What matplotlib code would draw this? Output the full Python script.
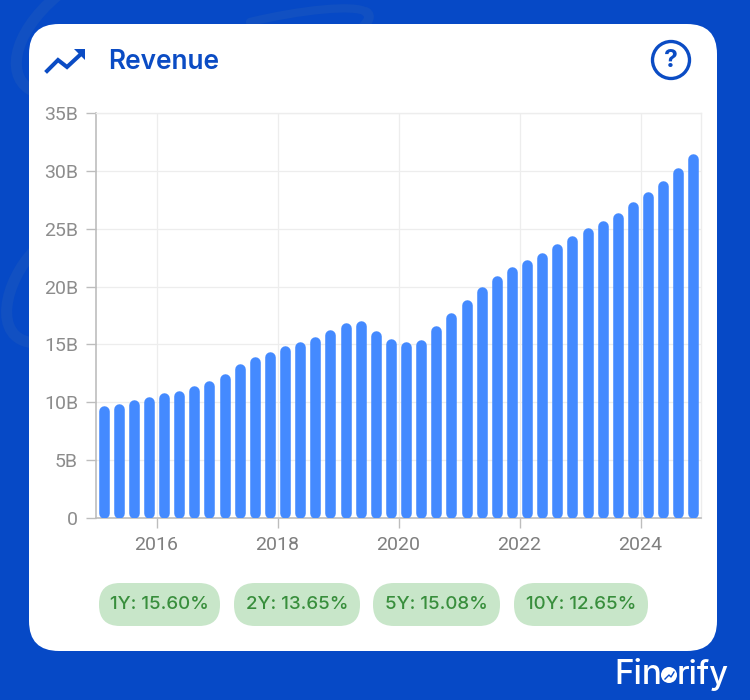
import matplotlib
matplotlib.use('Agg')
import matplotlib.pyplot as plt
import matplotlib.patches as mpatches
import matplotlib.path as mpath
import numpy as np

# quarterly revenue, billions
revenue = [9.7, 9.9, 10.2, 10.5, 10.8, 11.0, 11.4, 11.9, 12.5, 13.3,
           13.9, 14.4, 14.9, 15.2, 15.7, 16.3, 16.9, 17.0, 16.2, 15.5,
           15.2, 15.4, 16.6, 17.7, 18.9, 20.0, 20.9, 21.7, 22.3, 22.9,
           23.7, 24.4, 25.1, 25.7, 26.4, 27.3, 28.2, 29.1, 30.3, 31.5]
years = [2016, 2018, 2020, 2022, 2024]
y_ticks = [0, 5, 10, 15, 20, 25, 30, 35]
y_labels = ['0', '5B', '10B', '15B', '20B', '25B', '30B', '35B']
growth = ['1Y: 15.60%', '2Y: 13.65%', '5Y: 15.08%', '10Y: 12.65%']
pill_left = [99, 234, 373, 514]
pill_right = [220, 360, 500, 648]

BLUE = '#0649C6'
TITLE = '#0B4CC4'
W, H = 750, 700

fig = plt.figure(figsize=(W / 100, H / 100), dpi=100, facecolor=BLUE)

# full size layer in pixel coordinates for the card and the decorations
bg = fig.add_axes([0, 0, 1, 1])
bg.set_xlim(0, W)
bg.set_ylim(H, 0)
bg.axis('off')

P = mpath.Path
swooshes = [
    ([(58, -5), (10, 35), (5, 80), (35, 92)], 8),
    ([(250, 22), (300, 10), (355, 4), (366, 12)], 6),
    ([(366, 12), (372, 16), (368, 22), (362, 28)], 7),
    ([(35, 250), (5, 280), (-10, 340), (35, 343)], 8),
]
for pts, lw in swooshes:
    bg.add_patch(mpatches.PathPatch(P(pts, [P.MOVETO, P.CURVE4, P.CURVE4, P.CURVE4]),
                                    fc='none', ec='#1150C2', lw=lw, capstyle='round'))

bg.add_patch(mpatches.FancyBboxPatch((29 + 30, 24 + 30), 688 - 60, 627 - 60,
                                     boxstyle='round,pad=30,rounding_size=30',
                                     fc='white', ec='none'))

# trend icon
bg.plot([47, 58, 67, 81], [71, 60, 67, 54], color=TITLE, lw=2.9, solid_joinstyle='miter')
bg.add_patch(mpatches.Polygon([(74, 49), (85, 49), (85, 60)], fc=TITLE, ec='none'))
bg.text(108, 62, 'Revenue', color=TITLE, fontsize=18.9, fontweight='semibold',
        family='Inter', ha='left', va='center')

# help icon
bg.add_patch(mpatches.Circle((671, 60), 18.5, fc='none', ec=TITLE, lw=2.4))
bg.text(671, 60.5, '?', color=TITLE, fontsize=18, fontweight='bold', family='Inter',
        ha='center', va='center')

# growth pills
for label, x0, x1 in zip(growth, pill_left, pill_right):
    bg.add_patch(mpatches.FancyBboxPatch((x0 + 21, 583 + 21), x1 - x0 - 42, 1,
                                         boxstyle='round,pad=21,rounding_size=21',
                                         fc='#C8E6C9', ec='none'))
    bg.text((x0 + x1) / 2, 604.5, label, color='#388E3C', fontsize=13.5, fontweight='medium',
            family='Inter', ha='center', va='center')

# brand
bg.text(614, 675, 'Fin', color='white', fontsize=24, fontweight='medium', family='Inter',
        ha='left', va='center')
bg.add_patch(mpatches.Circle((669, 675), 8, fc='white', ec='none'))
bg.plot([665, 669, 671, 674], [679, 675, 677, 672], color=BLUE, lw=1)
bg.text(677, 675, 'rify', color='white', fontsize=23.5, fontweight='medium', family='Inter',
        ha='left', va='center')

# chart
ax = fig.add_axes([96 / W, 1 - 518 / H, 605 / W, 405 / H])
ax.set_facecolor('white')
ax.set_xlim(2015, 2025)
ax.set_ylim(0, 35)

x = 2015.125 + 0.25 * np.arange(len(revenue))
r = 0.45
ax.vlines(x, r, np.array(revenue) - r, color='#448AFF', lw=7.6, capstyle='round', zorder=3)

ax.set_xticks(years)
ax.set_yticks(y_ticks)
ax.set_yticklabels(y_labels)
ax.grid(True, color='#EDEDED', lw=0.9)
ax.set_axisbelow(True)
for s in ['top', 'right']:
    ax.spines[s].set_color('#EDEDED')
    ax.spines[s].set_linewidth(1.0)
for s in ['left', 'bottom']:
    ax.spines[s].set_color('#BDBDBD')
    ax.spines[s].set_linewidth(1.2)
ax.tick_params(axis='x', length=7, width=1, color='#BDBDBD', labelcolor='#7F7F7F',
               labelsize=14, pad=6)
ax.tick_params(axis='y', length=7, width=1, color='#BDBDBD', labelcolor='#8C8C8C',
               labelsize=14, pad=6)
for t in ax.get_xticklabels() + ax.get_yticklabels():
    t.set_family('Roboto')

fig.savefig('out.png', dpi=100, facecolor=fig.get_facecolor())
